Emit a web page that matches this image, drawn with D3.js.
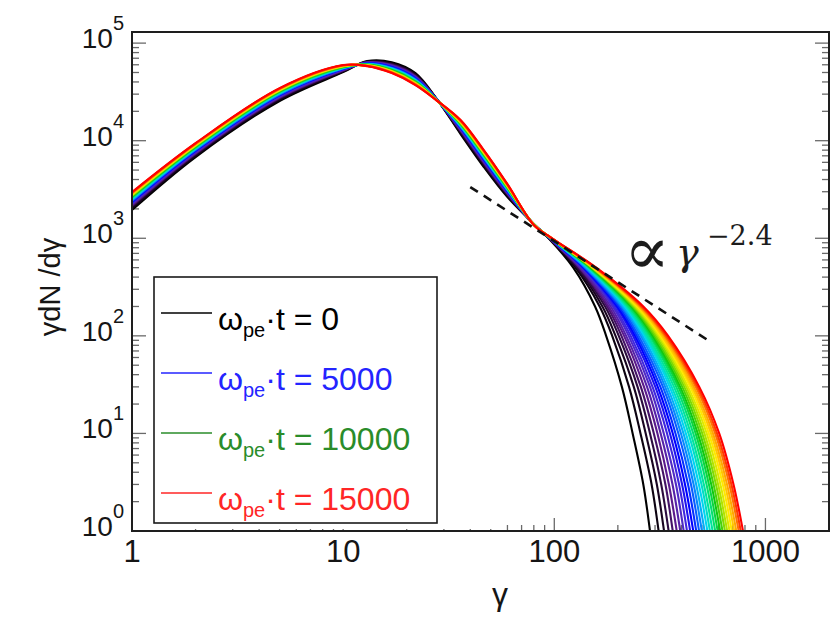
<!DOCTYPE html>
<html>
<head>
<meta charset="utf-8">
<script src="https://cdn.jsdelivr.net/npm/d3@7"></script>
<style>
  html, body { margin: 0; padding: 0; background: #ffffff; }
  svg { display: block; }
</style>
</head>
<body>
<svg id="chart" width="834" height="620"></svg>
<script>
// Snapshot times (ω_pe·t) of the electron spectra, one curve each
const snapshotTimes = [0, 500, 1000, 1500, 2000, 2500, 3000, 3500, 4000, 4500, 5000,
  5500, 6000, 6500, 7000, 7500, 8000, 8500, 9000, 9500, 10000,
  10500, 11000, 11500, 12000, 12500, 13000, 13500, 14000, 14500, 15000];

// Thermal body: γdN/dγ at fixed γ; each row holds one value per snapshot
const bodyGamma = [1, 2, 5, 10, 13, 17, 22, 28, 36, 46, 60, 80];
const bodySpectra = [
  [1945, 2023, 2075, 2118, 2158, 2193, 2234, 2265, 2301, 2333, 2366, 2399, 2432, 2460, 2495, 2523, 2553, 2588, 2618, 2649, 2679, 2704, 2735, 2767, 2793, 2825, 2851, 2884, 2911, 2944, 2972],
  [6792, 6998, 7129, 7261, 7362, 7464, 7551, 7656, 7745, 7834, 7907, 7998, 8072, 8166, 8241, 8318, 8395, 8472, 8551, 8630, 8710, 8770, 8851, 8933, 8995, 9078, 9141, 9226, 9290, 9376, 9441],
  [25500, 26200, 26700, 27100, 27500, 27800, 28100, 28400, 28800, 29100, 29400, 29600, 29900, 30200, 30500, 30800, 31000, 31300, 31600, 31800, 32100, 32300, 32600, 32800, 33100, 33300, 33600, 33800, 34100, 34300, 34600],
  [50500, 51200, 51700, 52200, 52600, 52900, 53300, 53600, 53900, 54200, 54500, 54800, 55100, 55400, 55600, 55900, 56200, 56400, 56700, 56900, 57200, 57400, 57700, 57900, 58200, 58400, 58600, 58900, 59100, 59300, 59600],
  [65500, 64700, 64300, 63900, 63600, 63300, 63000, 62700, 62400, 62200, 61900, 61700, 61500, 61200, 61000, 60800, 60600, 60400, 60200, 60000, 59800, 59600, 59400, 59300, 59100, 58900, 58700, 58600, 58400, 58200, 58100],
  [63800, 62300, 61400, 60600, 59900, 59300, 58700, 58200, 57600, 57100, 56600, 56200, 55700, 55300, 54900, 54500, 54100, 53700, 53300, 52900, 52600, 52200, 51900, 51500, 51200, 50900, 50600, 50300, 49900, 49600, 49300],
  [49300, 48100, 47300, 46600, 46000, 45500, 45000, 44500, 44100, 43700, 43300, 42900, 42500, 42100, 41800, 41400, 41100, 40800, 40500, 40200, 39900, 39600, 39300, 39000, 38700, 38400, 38200, 37900, 37700, 37400, 37200],
  [26060, 26010, 25970, 25940, 25920, 25890, 25870, 25850, 25830, 25810, 25790, 25770, 25750, 25730, 25710, 25700, 25680, 25660, 25650, 25630, 25620, 25600, 25590, 25570, 25560, 25540, 25530, 25510, 25500, 25480, 25470],
  [11690, 12050, 12270, 12500, 12680, 12850, 13000, 13180, 13340, 13490, 13610, 13770, 13900, 14060, 14190, 14320, 14450, 14590, 14720, 14860, 15000, 15100, 15240, 15380, 15490, 15630, 15740, 15890, 16000, 16140, 16260],
  [5500, 5700, 5840, 5950, 6060, 6160, 6260, 6350, 6440, 6530, 6620, 6700, 6790, 6870, 6950, 7030, 7110, 7190, 7280, 7350, 7430, 7510, 7590, 7660, 7740, 7820, 7890, 7970, 8050, 8120, 8200],
  [2640, 2720, 2770, 2810, 2850, 2880, 2920, 2950, 2980, 3010, 3050, 3070, 3100, 3130, 3160, 3190, 3220, 3250, 3270, 3300, 3330, 3350, 3380, 3410, 3430, 3460, 3480, 3510, 3540, 3560, 3590],
  [1400, 1397, 1395, 1394, 1392, 1391, 1390, 1388, 1387, 1386, 1385, 1384, 1383, 1382, 1381, 1380, 1379, 1378, 1378, 1377, 1376, 1375, 1374, 1373, 1373, 1372, 1371, 1370, 1370, 1369, 1368]
];

// Non-thermal tail: γ at which each snapshot drops to the given γdN/dγ level
const tailLevels = [1000, 500, 200, 100, 30, 10, 3, 1, 0.2];
const tailGamma = [
  [94.0, 94.3, 94.5, 94.7, 94.9, 95.0, 95.1, 95.3, 95.4, 95.5, 95.6, 95.8, 95.9, 96.0, 96.1, 96.2, 96.3, 96.4, 96.5, 96.6, 96.7, 96.8, 96.9, 97.0, 97.1, 97.2, 97.3, 97.3, 97.4, 97.5, 97.6],
  [123, 126, 128, 129, 131, 132, 133, 135, 136, 137, 138, 139, 140, 141, 142, 144, 145, 146, 147, 148, 149, 150, 151, 152, 152, 153, 154, 155, 156, 157, 158],
  [156, 164, 169, 174, 178, 181, 185, 189, 192, 196, 199, 202, 206, 209, 212, 216, 219, 222, 225, 229, 232, 235, 238, 241, 244, 248, 251, 254, 257, 260, 264],
  [176, 188, 195, 202, 208, 214, 219, 225, 230, 236, 241, 246, 251, 257, 262, 267, 272, 277, 283, 288, 293, 298, 303, 309, 314, 319, 324, 330, 335, 340, 346],
  [209, 226, 238, 248, 257, 266, 275, 284, 292, 301, 309, 318, 327, 335, 343, 352, 360, 369, 378, 387, 395, 404, 413, 422, 430, 440, 449, 458, 468, 477, 486],
  [235, 256, 271, 284, 296, 308, 319, 330, 342, 353, 364, 375, 387, 398, 409, 420, 432, 443, 455, 467, 478, 490, 502, 514, 527, 539, 552, 564, 578, 590, 604],
  [264, 289, 306, 321, 336, 349, 363, 377, 390, 403, 416, 430, 444, 457, 470, 484, 498, 511, 526, 540, 554, 568, 583, 597, 612, 628, 643, 658, 675, 690, 706],
  [284, 312, 331, 348, 364, 380, 395, 410, 425, 440, 455, 470, 485, 500, 515, 531, 546, 562, 578, 594, 610, 626, 643, 659, 676, 693, 711, 728, 747, 764, 783],
  [312, 344, 365, 385, 403, 421, 439, 456, 473, 491, 508, 525, 543, 560, 578, 596, 614, 633, 651, 670, 689, 708, 728, 747, 767, 787, 807, 828, 850, 871, 893]
];

// Reference power law γdN/dγ ∝ γ^-1.4 (i.e. dN/dγ ∝ γ^-2.4), end points
const powerLawGamma = [40, 535];
const powerLawValue = [3350, 90];

// Legend entries
const legendTimes = [0, 5000, 10000, 15000];
const legendColors = ["#000000", "#2424ff", "#2a8c2a", "#ff2626"];

// Axis tick labels
const xTickValues = [1, 10, 100, 1000];
const xTickLabels = ["1", "10", "100", "1000"];
const yTickValues = [1, 10, 100, 1000, 10000, 100000];
const yTickExponents = ["0", "1", "2", "3", "4", "5"];

// Rainbow colour table (black → purple → blue → cyan → green → yellow → red)
const colorStopTimes = [0, 1200, 2500, 3800, 5000, 6300, 7500, 8700, 10000, 11300, 12400, 13600, 15000];
const colorStops = ["#000000", "#1e0628", "#5b1a8c", "#4b2fd6", "#0000ff", "#0a78ff", "#00d4f0",
  "#00e68c", "#10c810", "#9ee000", "#ffee00", "#ffa000", "#ff0000"];

// ---------------------------------------------------------------------------
const svg = d3.select("#chart");
const plot = { left: 132, right: 829, top: 32, bottom: 531 };
const sansFont = "'Liberation Sans', Arial, Helvetica, sans-serif";

const x = d3.scaleLog().domain([1, 2000]).range([plot.left, plot.right]);
const y = d3.scaleLog().domain([1, 1.3e5]).range([plot.bottom, plot.top]);
const color = d3.scaleLinear().domain(colorStopTimes).range(colorStops).interpolate(d3.interpolateRgb);

svg.append("rect").attr("width", 834).attr("height", 620).attr("fill", "#ffffff");

svg.append("defs").append("clipPath").attr("id", "plot-clip")
  .append("rect")
  .attr("x", plot.left).attr("y", plot.top)
  .attr("width", plot.right - plot.left).attr("height", plot.bottom - plot.top);

const isMajor = v => Math.abs(Math.log10(v) - Math.round(Math.log10(v))) < 1e-9;

// Inward ticks: bottom, left and right edges
const tickG = svg.append("g").attr("stroke", "#6a6a6a").attr("stroke-width", 1.3);
x.ticks().forEach(v => {
  const len = isMajor(v) ? 13 : 6;
  tickG.append("line").attr("x1", x(v)).attr("x2", x(v))
    .attr("y1", plot.bottom).attr("y2", plot.bottom - len);
});
y.ticks().forEach(v => {
  const len = isMajor(v) ? 14 : 7;
  tickG.append("line").attr("x1", plot.left).attr("x2", plot.left + len)
    .attr("y1", y(v)).attr("y2", y(v));
  tickG.append("line").attr("x1", plot.right).attr("x2", plot.right - len)
    .attr("y1", y(v)).attr("y2", y(v));
});

// White backdrop of the legend panel (sits over the lower-left ticks)
svg.append("rect")
  .attr("x", 148).attr("y", 270).attr("width", 352).attr("height", 259)
  .attr("fill", "#ffffff");

// Spectra
const line = d3.line()
  .x(d => x(d[0]))
  .y(d => y(d[1]))
  .curve(d3.curveCatmullRom.alpha(0.5));

const curves = snapshotTimes.map((t, k) => {
  const body = bodyGamma.map((g, j) => [g, bodySpectra[j][k]]);
  const tail = tailLevels.map((v, j) => [tailGamma[j][k], v]);
  return { t, points: body.concat(tail) };
});

svg.append("g").attr("clip-path", "url(#plot-clip)")
  .selectAll("path").data(curves).join("path")
  .attr("d", d => line(d.points))
  .attr("fill", "none")
  .attr("stroke", d => color(d.t))
  .attr("stroke-width", 2.1)
  .attr("stroke-linejoin", "round");

// Power-law guide
svg.append("path")
  .attr("clip-path", "url(#plot-clip)")
  .attr("d", d3.line().x(d => x(d[0])).y(d => y(d[1]))(powerLawGamma.map((g, i) => [g, powerLawValue[i]])))
  .attr("fill", "none")
  .attr("stroke", "#111111")
  .attr("stroke-width", 2.6)
  .attr("stroke-dasharray", "9 7");

// Annotation ∝ γ^-2.4
const ann = svg.append("g").attr("fill", "#1c1c1c");
ann.append("text").attr("x", 624).attr("y", 274)
  .style("font-family", "'DejaVu Serif', serif").style("font-size", "68px").text("∝");
ann.append("text").attr("x", 676).attr("y", 265)
  .style("font-family", "'DejaVu Serif', serif").style("font-style", "italic")
  .style("font-size", "38px").text("γ");
ann.append("text").attr("x", 707).attr("y", 245)
  .style("font-family", "'DejaVu Serif', serif").style("font-size", "27px").text("−2.4");

// Frame
svg.append("rect")
  .attr("x", plot.left).attr("y", plot.top)
  .attr("width", plot.right - plot.left).attr("height", plot.bottom - plot.top)
  .attr("fill", "none").attr("stroke", "#1e1e1e").attr("stroke-width", 2);

// X tick labels
svg.append("g").selectAll("text").data(xTickValues).join("text")
  .attr("x", d => x(d)).attr("y", 562)
  .attr("text-anchor", "middle")
  .style("font-family", sansFont).style("font-size", "31px").attr("fill", "#151515")
  .text((d, i) => xTickLabels[i]);

// Y tick labels 10^n
yTickValues.forEach((v, i) => {
  const t = svg.append("text")
    .attr("x", 124).attr("y", y(v) + 5)
    .attr("text-anchor", "end")
    .style("font-family", sansFont).attr("fill", "#151515");
  t.append("tspan").style("font-size", "28px").text("10");
  t.append("tspan").attr("dy", -18).style("font-size", "20px").text(yTickExponents[i]);
});

// Axis titles
svg.append("text")
  .attr("x", 500).attr("y", 605).attr("text-anchor", "middle")
  .style("font-family", sansFont).style("font-size", "32px").attr("fill", "#151515")
  .text("γ");
svg.append("text")
  .attr("transform", "translate(60,287) rotate(-90)")
  .attr("text-anchor", "middle")
  .style("font-family", sansFont).style("font-size", "29px").attr("fill", "#151515")
  .text("γdN /dγ");

// Legend
const legend = svg.append("g");
legend.append("rect")
  .attr("x", 154).attr("y", 277).attr("width", 283).attr("height", 246)
  .attr("fill", "#ffffff").attr("stroke", "#1a1a1a").attr("stroke-width", 1.6);
legendTimes.forEach((t, i) => {
  const ly = 313 + i * 60;
  legend.append("line")
    .attr("x1", 161).attr("x2", 212).attr("y1", ly).attr("y2", ly)
    .attr("stroke", legendColors[i]).attr("stroke-width", 1.5);
  const txt = legend.append("text")
    .attr("x", 218).attr("y", ly + 17)
    .style("font-family", sansFont).style("font-size", "32px")
    .attr("fill", legendColors[i]);
  txt.append("tspan").text("ω");
  txt.append("tspan").attr("dy", 7).style("font-size", "20px").text("pe");
  txt.append("tspan").attr("dy", -7).text("·t = " + t);
});
</script>
</body>
</html>
